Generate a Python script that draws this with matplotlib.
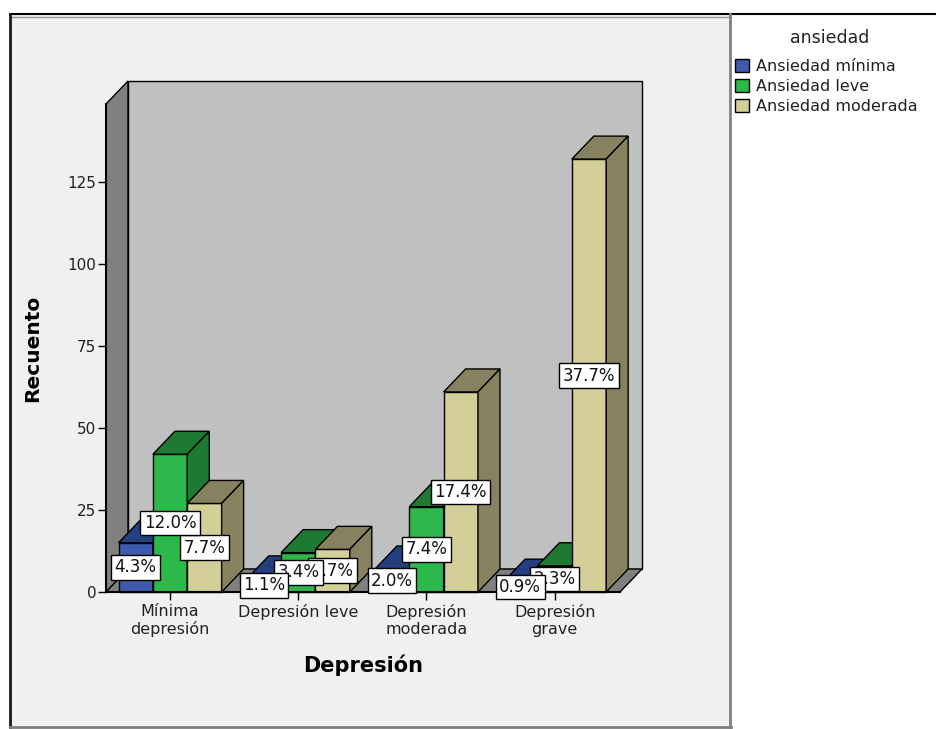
import numpy as np
import matplotlib
matplotlib.use('Agg')
import matplotlib.pyplot as plt
from matplotlib.patches import Polygon, Rectangle, Patch
from matplotlib.lines import Line2D

# Recuento por nivel de depresión y de ansiedad (N = 350)
categorias = ['Mínima\ndepresión', 'Depresión leve', 'Depresión\nmoderada', 'Depresión\ngrave']
series = ['Ansiedad mínima', 'Ansiedad leve', 'Ansiedad moderada']
ansiedad_minima = [15, 4, 7, 3]
ansiedad_leve = [42, 12, 26, 8]
ansiedad_moderada = [27, 13, 61, 132]
total = 350

colores = ['#3d5aad', '#2db84b', '#d4cf98']
colores_sombra = ['#233f7f', '#1f7a31', '#868260']

plt.rcParams['font.family'] = 'DejaVu Sans'

W, H = 937, 729
fig = plt.figure(figsize=(W / 100, H / 100), dpi=100)
fig.patch.set_facecolor('white')

# panel gris del gráfico con su marco
fig.patches.append(Rectangle((10 / W, 1 - 727 / H), 720 / W, 713 / H, transform=fig.transFigure,
                             fc='#f0f0f0', ec='none', zorder=-10))
fig.add_artist(Line2D([10 / W, 1], [1 - 14 / H] * 2, color='black', lw=1.5))
fig.add_artist(Line2D([10 / W, 730 / W], [1 - 17 / H] * 2, color='#999999', lw=1))
fig.add_artist(Line2D([10 / W] * 2, [1 - 14 / H, 1 - 728 / H], color='#1a1a1a', lw=2))
fig.add_artist(Line2D([10 / W, 731 / W], [1 - 727 / H] * 2, color='#808080', lw=2))
fig.add_artist(Line2D([730 / W] * 2, [1 - 14 / H, 1 - 728 / H], color='#808080', lw=2))

ax = fig.add_axes([106 / W, 1 - 592 / H, 514 / W, 488 / H])
xmin, xmax = -0.5, 3.51
ymin, ymax = 0, 148.8
ax.set_xlim(xmin, xmax)
ax.set_ylim(ymin, ymax)
ax.patch.set_visible(False)

# profundidad del efecto 3D (22 px) pasada a unidades de datos
p0 = ax.transData.transform((0, 0))
p1 = ax.transData.transform((1, 1))
dx = 22 / (p1[0] - p0[0])
dy = 23 / (p1[1] - p0[1])

kw = dict(ec='black', lw=1, clip_on=False)
# pared del fondo, pared izquierda y suelo
ax.add_patch(Polygon([(xmin + dx, dy), (xmax + dx, dy), (xmax + dx, ymax + dy), (xmin + dx, ymax + dy)],
                     fc='#c0c0c0', zorder=0.5, **kw))
ax.add_patch(Polygon([(xmin, 0), (xmin + dx, dy), (xmin + dx, ymax + dy), (xmin, ymax)],
                     fc='#808080', zorder=0.6, **kw))
ax.add_patch(Polygon([(xmin, 0), (xmax, 0), (xmax + dx, dy), (xmin + dx, dy)],
                     fc='#808080', zorder=0.6, **kw))

valores = [ansiedad_minima, ansiedad_leve, ansiedad_moderada]
w = 0.268
z = 1
for j in range(len(categorias)):
    for i, vals in enumerate(valores):
        h = vals[j]
        x0 = j + (i - 1.5) * w
        ax.add_patch(Rectangle((x0, 0), w, h, fc=colores[i], zorder=z, **kw))
        ax.add_patch(Polygon([(x0, h), (x0 + w, h), (x0 + w + dx, h + dy), (x0 + dx, h + dy)],
                             fc=colores_sombra[i], zorder=z, **kw))
        ax.add_patch(Polygon([(x0 + w, 0), (x0 + w + dx, dy), (x0 + w + dx, h + dy), (x0 + w, h)],
                             fc=colores_sombra[i], zorder=z, **kw))
        z += 1
        ax.text(x0 + w / 2, h / 2, f'{h / total * 100:.1f}%', ha='center', va='center',
                fontsize=12, color='#111111', zorder=100 + (3 - i), clip_on=False,
                bbox=dict(boxstyle='square,pad=0.2', fc='white', ec='black', lw=1))

for s in ['top', 'right']:
    ax.spines[s].set_visible(False)
for s in ['left', 'bottom']:
    ax.spines[s].set_zorder(50)
    ax.spines[s].set_linewidth(1.5)

ax.set_yticks([0, 25, 50, 75, 100, 125])
ax.set_xticks(range(len(categorias)))
ax.set_xticklabels(categorias, linespacing=1.1)
ax.tick_params(axis='y', length=6, width=1, labelsize=11, pad=1, labelcolor='#222222')
ax.tick_params(axis='x', length=6, width=1, labelsize=11.5, pad=3, labelcolor='#222222')

ax.set_ylabel('Recuento', fontsize=14.5, fontweight='bold')
ax.yaxis.set_label_coords((33 - 106) / 514, 0.5)
ax.yaxis.label.set_va('center')
ax.set_xlabel('Depresión', fontsize=15, fontweight='bold')
ax.xaxis.set_label_coords(0.5, -(665 - 592) / 488)
ax.xaxis.label.set_va('center')

# leyenda
fig.text(830 / W, 1 - 38 / H, 'ansiedad', ha='center', va='center', fontsize=12.5, color='#222222')
manejadores = [Patch(fc=c, ec='black', lw=1, label=s) for c, s in zip(colores, series)]
leg = fig.legend(handles=manejadores, loc='upper left', bbox_to_anchor=(735 / W, 1 - 59 / H),
                 frameon=False, fontsize=11.5,
                 handlelength=0.9, handleheight=0.9, handletextpad=0.4, labelspacing=0.3,
                 borderaxespad=0, borderpad=0)
for t in leg.get_texts():
    t.set_color('#222222')

fig.savefig('out.png', dpi=100)
